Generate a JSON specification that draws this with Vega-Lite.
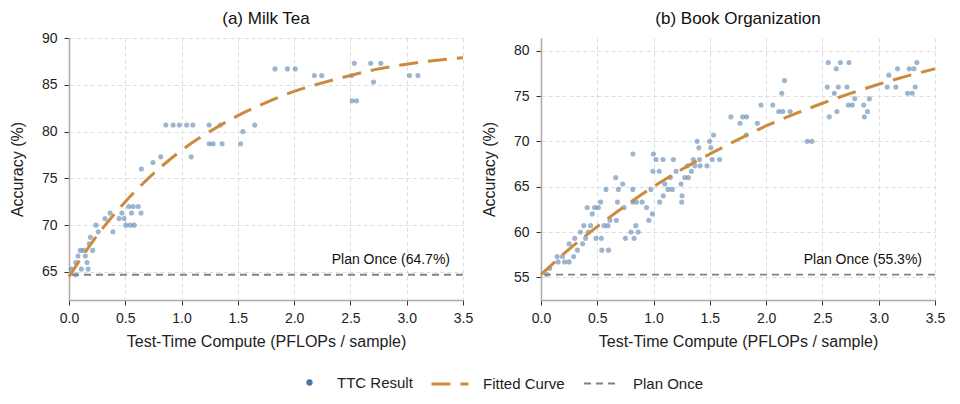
{
  "$schema": "https://vega.github.io/schema/vega-lite/v6.json",
  "padding": {"left": 9, "top": 10, "right": 10, "bottom": 5},
  "config": {
    "font": "Liberation Sans",
    "view": {"stroke": null},
    "axis": {
      "domainColor": "#aaaaaa", "domainWidth": 1.5,
      "tickColor": "#333333", "tickSize": 5, "tickWidth": 1,
      "labelFontSize": 14, "labelColor": "#222222", "labelFlush": false,
      "titleFontSize": 16, "titleFontWeight": "normal", "titleColor": "#222222",
      "gridColor": "#dddddd", "gridDash": [4, 3], "gridWidth": 1
    },
    "axisX": {"labelPadding": 6, "titlePadding": 8},
    "axisY": {"labelPadding": 7, "titlePadding": 16},
    "legend": {"title": null, "orient": "none", "labelFontSize": 15, "labelColor": "#222222", "symbolOpacity": 1},
    "title": {"fontSize": 17, "fontWeight": "normal", "color": "#111111", "anchor": "middle", "frame": "group"}
  },
  "datasets": {
    "milk_points": [
      {"x": 0.02, "y": 65.3}, {"x": 0.06, "y": 64.7}, {"x": 0.06, "y": 66.0}, {"x": 0.08, "y": 66.7},
      {"x": 0.10, "y": 67.3}, {"x": 0.11, "y": 65.3}, {"x": 0.13, "y": 67.3}, {"x": 0.145, "y": 66.7},
      {"x": 0.16, "y": 66.0}, {"x": 0.17, "y": 65.3}, {"x": 0.18, "y": 68.0}, {"x": 0.19, "y": 68.7},
      {"x": 0.21, "y": 67.3}, {"x": 0.24, "y": 70.0}, {"x": 0.26, "y": 69.3}, {"x": 0.32, "y": 70.7},
      {"x": 0.365, "y": 71.3}, {"x": 0.39, "y": 69.3}, {"x": 0.445, "y": 70.7}, {"x": 0.47, "y": 71.3},
      {"x": 0.49, "y": 70.7}, {"x": 0.505, "y": 70.0}, {"x": 0.53, "y": 72.0}, {"x": 0.545, "y": 70.0},
      {"x": 0.555, "y": 71.3}, {"x": 0.57, "y": 72.0}, {"x": 0.58, "y": 70.0}, {"x": 0.615, "y": 72.0},
      {"x": 0.64, "y": 71.3}, {"x": 0.643, "y": 76.0}, {"x": 0.746, "y": 76.7}, {"x": 0.815, "y": 77.3},
      {"x": 0.86, "y": 80.7}, {"x": 0.925, "y": 80.7}, {"x": 0.98, "y": 80.7}, {"x": 1.045, "y": 80.7},
      {"x": 1.10, "y": 80.7}, {"x": 1.085, "y": 77.3}, {"x": 1.245, "y": 80.7}, {"x": 1.345, "y": 80.7},
      {"x": 1.245, "y": 78.7}, {"x": 1.28, "y": 78.7}, {"x": 1.36, "y": 78.7}, {"x": 1.525, "y": 78.7},
      {"x": 1.545, "y": 80.0}, {"x": 1.65, "y": 80.7}, {"x": 1.83, "y": 86.7}, {"x": 1.94, "y": 86.7},
      {"x": 2.01, "y": 86.7}, {"x": 2.18, "y": 86.0}, {"x": 2.245, "y": 86.0}, {"x": 2.51, "y": 86.0},
      {"x": 2.535, "y": 87.3}, {"x": 2.515, "y": 83.3}, {"x": 2.555, "y": 83.3}, {"x": 2.68, "y": 87.3},
      {"x": 2.705, "y": 85.3}, {"x": 2.77, "y": 87.3}, {"x": 3.025, "y": 86.0}, {"x": 3.10, "y": 86.0}
    ],
    "milk_curve": [
      {"x": 0, "y": 64.5}, {"x": 0.25, "y": 68.9}, {"x": 0.5, "y": 72.5}, {"x": 0.75, "y": 75.5},
      {"x": 1.0, "y": 78.0}, {"x": 1.25, "y": 80.0}, {"x": 1.5, "y": 81.7}, {"x": 1.75, "y": 83.1},
      {"x": 2.0, "y": 84.3}, {"x": 2.25, "y": 85.2}, {"x": 2.5, "y": 86.0}, {"x": 2.75, "y": 86.7},
      {"x": 3.0, "y": 87.2}, {"x": 3.25, "y": 87.6}, {"x": 3.5, "y": 87.9}
    ],
    "milk_plan": [{"y": 64.7, "label": "Plan Once (64.7%)"}],
    "book_points": [
      {"x": 0.054, "y": 55.3}, {"x": 0.077, "y": 56.0}, {"x": 0.143, "y": 57.3}, {"x": 0.152, "y": 56.7},
      {"x": 0.19, "y": 57.3}, {"x": 0.21, "y": 56.7}, {"x": 0.25, "y": 56.7}, {"x": 0.25, "y": 58.7},
      {"x": 0.29, "y": 57.3}, {"x": 0.30, "y": 59.3}, {"x": 0.324, "y": 58.0}, {"x": 0.35, "y": 60.0},
      {"x": 0.37, "y": 58.7}, {"x": 0.38, "y": 60.7}, {"x": 0.396, "y": 59.3}, {"x": 0.41, "y": 62.7},
      {"x": 0.42, "y": 60.0}, {"x": 0.44, "y": 60.7}, {"x": 0.455, "y": 62.0}, {"x": 0.476, "y": 62.7},
      {"x": 0.488, "y": 59.3}, {"x": 0.51, "y": 62.7}, {"x": 0.53, "y": 63.3}, {"x": 0.536, "y": 59.3},
      {"x": 0.54, "y": 58.0}, {"x": 0.56, "y": 60.7}, {"x": 0.577, "y": 64.7}, {"x": 0.595, "y": 60.7},
      {"x": 0.60, "y": 58.0}, {"x": 0.613, "y": 61.3}, {"x": 0.664, "y": 66.0}, {"x": 0.67, "y": 61.3},
      {"x": 0.679, "y": 63.3}, {"x": 0.6875, "y": 64.7}, {"x": 0.726, "y": 65.3}, {"x": 0.738, "y": 62.7},
      {"x": 0.75, "y": 59.3}, {"x": 0.80, "y": 60.0}, {"x": 0.815, "y": 64.7}, {"x": 0.815, "y": 63.3},
      {"x": 0.827, "y": 59.3}, {"x": 0.842, "y": 60.7}, {"x": 0.848, "y": 63.3}, {"x": 0.863, "y": 60.0},
      {"x": 0.899, "y": 63.3}, {"x": 0.9375, "y": 62.7}, {"x": 0.958, "y": 61.3}, {"x": 0.976, "y": 64.7},
      {"x": 0.99, "y": 62.0}, {"x": 0.994, "y": 66.7}, {"x": 1.05, "y": 66.7}, {"x": 1.054, "y": 63.3},
      {"x": 1.086, "y": 64.0}, {"x": 1.10, "y": 65.3}, {"x": 1.128, "y": 64.7}, {"x": 1.149, "y": 66.0},
      {"x": 1.167, "y": 64.7}, {"x": 1.2, "y": 66.7}, {"x": 1.244, "y": 65.3}, {"x": 1.25, "y": 63.3},
      {"x": 1.253, "y": 64.0}, {"x": 1.277, "y": 66.0}, {"x": 1.31, "y": 66.0}, {"x": 1.336, "y": 66.7},
      {"x": 0.817, "y": 68.6}, {"x": 0.998, "y": 68.6}, {"x": 1.022, "y": 68.0}, {"x": 1.084, "y": 68.0},
      {"x": 1.176, "y": 68.0}, {"x": 1.301, "y": 67.3}, {"x": 1.352, "y": 68.0}, {"x": 1.367, "y": 67.3},
      {"x": 1.387, "y": 70.0}, {"x": 1.402, "y": 69.3}, {"x": 1.408, "y": 68.0}, {"x": 1.414, "y": 67.3},
      {"x": 1.474, "y": 67.3}, {"x": 1.497, "y": 70.0}, {"x": 1.509, "y": 69.3}, {"x": 1.521, "y": 68.0},
      {"x": 1.533, "y": 70.7}, {"x": 1.586, "y": 68.0}, {"x": 1.687, "y": 72.7}, {"x": 1.768, "y": 72.0},
      {"x": 1.791, "y": 72.7}, {"x": 1.827, "y": 72.7}, {"x": 1.824, "y": 70.7}, {"x": 1.922, "y": 72.0},
      {"x": 1.955, "y": 74.0}, {"x": 2.059, "y": 74.0}, {"x": 2.112, "y": 73.3}, {"x": 2.148, "y": 73.3},
      {"x": 2.139, "y": 75.3}, {"x": 2.163, "y": 76.7}, {"x": 2.213, "y": 73.3}, {"x": 2.365, "y": 70.0},
      {"x": 2.406, "y": 70.0}, {"x": 2.552, "y": 78.7}, {"x": 2.543, "y": 76.0}, {"x": 2.561, "y": 72.7},
      {"x": 2.606, "y": 75.3}, {"x": 2.623, "y": 78.0}, {"x": 2.629, "y": 73.3}, {"x": 2.641, "y": 76.0},
      {"x": 2.659, "y": 78.7}, {"x": 2.718, "y": 76.0}, {"x": 2.736, "y": 78.7}, {"x": 2.730, "y": 74.0},
      {"x": 2.766, "y": 74.0}, {"x": 2.787, "y": 74.7}, {"x": 2.867, "y": 74.0}, {"x": 2.873, "y": 72.7},
      {"x": 2.900, "y": 73.3}, {"x": 2.917, "y": 74.7}, {"x": 3.075, "y": 76.0}, {"x": 3.090, "y": 77.3},
      {"x": 3.152, "y": 76.0}, {"x": 3.167, "y": 78.0}, {"x": 3.256, "y": 75.3}, {"x": 3.271, "y": 78.0},
      {"x": 3.298, "y": 75.3}, {"x": 3.313, "y": 78.0}, {"x": 3.324, "y": 76.0}, {"x": 3.339, "y": 78.7}
    ],
    "book_curve": [
      {"x": 0, "y": 55.3}, {"x": 0.25, "y": 58.1}, {"x": 0.5, "y": 60.6}, {"x": 0.75, "y": 62.9},
      {"x": 1.0, "y": 65.0}, {"x": 1.25, "y": 66.9}, {"x": 1.5, "y": 68.6}, {"x": 1.75, "y": 70.2},
      {"x": 2.0, "y": 71.7}, {"x": 2.25, "y": 73.0}, {"x": 2.5, "y": 74.2}, {"x": 2.75, "y": 75.3},
      {"x": 3.0, "y": 76.3}, {"x": 3.25, "y": 77.2}, {"x": 3.5, "y": 78.0}
    ],
    "book_plan": [{"y": 55.3, "label": "Plan Once (55.3%)"}]
  },
  "bounds": "flush",
  "spacing": 78,
  "hconcat": [
    {
      "width": 394,
      "height": 262,
      "title": {"text": "(a) Milk Tea", "offset": 3},
      "layer": [
        {
          "data": {"name": "milk_points"},
          "mark": {"type": "circle", "size": 26, "opacity": 0.55},
          "encoding": {
            "x": {"field": "x", "type": "quantitative", "scale": {"domain": [0, 3.5], "nice": false},
                  "axis": {"values": [0, 0.5, 1, 1.5, 2, 2.5, 3, 3.5], "format": ".1f", "title": "Test-Time Compute (PFLOPs / sample)"}},
            "y": {"field": "y", "type": "quantitative", "scale": {"domain": [62, 90], "nice": false, "zero": false},
                  "axis": {"values": [65, 70, 75, 80, 85, 90], "title": "Accuracy (%)"}},
            "fill": {
              "datum": "TTC Result", "type": "nominal",
              "scale": {"domain": ["TTC Result"], "range": ["#4C78A8"]},
              "legend": {"legendX": 233, "legendY": 337, "symbolType": "circle", "symbolSize": 40, "labelOffset": 20}
            }
          }
        },
        {
          "data": {"name": "milk_plan"},
          "mark": {"type": "rule", "color": "#7D8290", "strokeWidth": 1.8},
          "encoding": {
            "y": {"field": "y", "type": "quantitative"},
            "strokeDash": {
              "datum": "Plan Once", "type": "nominal",
              "scale": {"domain": ["Plan Once"], "range": [[7, 5]]},
              "legend": {"legendX": 514, "legendY": 328, "symbolType": "stroke", "symbolSize": 1089,
                         "symbolStrokeWidth": 1.8, "symbolStrokeColor": "#7D8290", "labelOffset": 15}
            }
          }
        },
        {
          "data": {"name": "milk_curve"},
          "mark": {"type": "line", "strokeDash": [19, 10], "strokeWidth": 3, "interpolate": "monotone"},
          "encoding": {
            "x": {"field": "x", "type": "quantitative"},
            "y": {"field": "y", "type": "quantitative"},
            "stroke": {
              "datum": "Fitted Curve", "type": "nominal",
              "scale": {"domain": ["Fitted Curve"], "range": ["#CB8A3E"]},
              "legend": {"legendX": 361, "legendY": 326, "symbolType": "stroke", "symbolSize": 1369,
                         "symbolStrokeWidth": 3, "symbolDash": [19, 10], "labelOffset": 13}
            }
          }
        },
        {
          "data": {"name": "milk_plan"},
          "mark": {"type": "text", "align": "right", "baseline": "middle", "dx": -13, "dy": -15, "fontSize": 14, "color": "#111111"},
          "encoding": {
            "x": {"datum": 3.5, "type": "quantitative"},
            "y": {"field": "y", "type": "quantitative"},
            "text": {"field": "label"}
          }
        }
      ]
    },
    {
      "width": 394,
      "height": 262,
      "title": {"text": "(b) Book Organization", "offset": 10},
      "layer": [
        {
          "data": {"name": "book_points"},
          "mark": {"type": "circle", "size": 26, "opacity": 0.55},
          "encoding": {
            "x": {"field": "x", "type": "quantitative", "scale": {"domain": [0, 3.5], "nice": false},
                  "axis": {"values": [0, 0.5, 1, 1.5, 2, 2.5, 3, 3.5], "format": ".1f", "title": "Test-Time Compute (PFLOPs / sample)"}},
            "y": {"field": "y", "type": "quantitative", "scale": {"domain": [52.5, 81.4], "nice": false, "zero": false},
                  "axis": {"values": [55, 60, 65, 70, 75, 80], "title": "Accuracy (%)"}},
            "fill": {"datum": "TTC Result", "type": "nominal"}
          }
        },
        {
          "data": {"name": "book_plan"},
          "mark": {"type": "rule", "color": "#7D8290", "strokeWidth": 1.8},
          "encoding": {
            "y": {"field": "y", "type": "quantitative"},
            "strokeDash": {"datum": "Plan Once", "type": "nominal"}
          }
        },
        {
          "data": {"name": "book_curve"},
          "mark": {"type": "line", "strokeDash": [19, 10], "strokeWidth": 3, "interpolate": "monotone"},
          "encoding": {
            "x": {"field": "x", "type": "quantitative"},
            "y": {"field": "y", "type": "quantitative"},
            "stroke": {"datum": "Fitted Curve", "type": "nominal"}
          }
        },
        {
          "data": {"name": "book_plan"},
          "mark": {"type": "text", "align": "right", "baseline": "middle", "dx": -13, "dy": -15, "fontSize": 14, "color": "#111111"},
          "encoding": {
            "x": {"datum": 3.5, "type": "quantitative"},
            "y": {"field": "y", "type": "quantitative"},
            "text": {"field": "label"}
          }
        }
      ]
    }
  ]
}
